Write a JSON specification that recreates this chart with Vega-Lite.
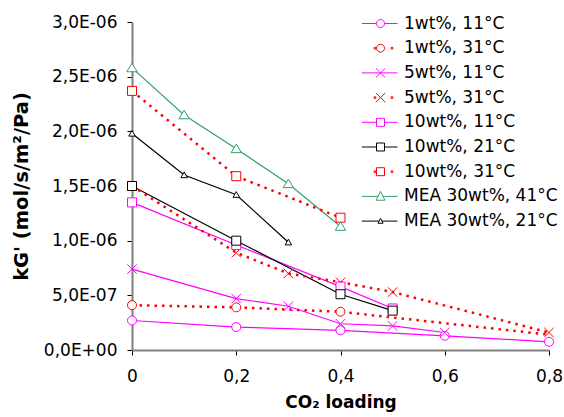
{
  "$schema": "https://vega.github.io/schema/vega-lite/v6.json",
  "width": 417,
  "height": 328,
  "autosize": {"type": "none"},
  "padding": {"left": 132, "top": 22, "right": 15, "bottom": 67},
  "background": "white",
  "config": {"view": {"stroke": null}, "font": "DejaVu Sans"},
  "data": {
    "values": [
      {"series": "1wt%, 11°C", "x": 0, "y": 2.7e-7},
      {"series": "1wt%, 11°C", "x": 0.2, "y": 2.1e-7},
      {"series": "1wt%, 11°C", "x": 0.4, "y": 1.8e-7},
      {"series": "1wt%, 11°C", "x": 0.6, "y": 1.3e-7},
      {"series": "1wt%, 11°C", "x": 0.8, "y": 7.5e-8},
      {"series": "1wt%, 31°C", "x": 0, "y": 4.1e-7},
      {"series": "1wt%, 31°C", "x": 0.2, "y": 3.9e-7},
      {"series": "1wt%, 31°C", "x": 0.4, "y": 3.5e-7},
      {"series": "1wt%, 31°C", "x": 0.8, "y": 1.4e-7},
      {"series": "5wt%, 11°C", "x": 0, "y": 7.4e-7},
      {"series": "5wt%, 11°C", "x": 0.2, "y": 4.7e-7},
      {"series": "5wt%, 11°C", "x": 0.3, "y": 4.0e-7},
      {"series": "5wt%, 11°C", "x": 0.4, "y": 2.4e-7},
      {"series": "5wt%, 11°C", "x": 0.5, "y": 2.2e-7},
      {"series": "5wt%, 11°C", "x": 0.6, "y": 1.6e-7},
      {"series": "5wt%, 31°C", "x": 0, "y": 1.5e-6},
      {"series": "5wt%, 31°C", "x": 0.2, "y": 8.9e-7},
      {"series": "5wt%, 31°C", "x": 0.3, "y": 7.0e-7},
      {"series": "5wt%, 31°C", "x": 0.4, "y": 6.2e-7},
      {"series": "5wt%, 31°C", "x": 0.5, "y": 5.3e-7},
      {"series": "5wt%, 31°C", "x": 0.8, "y": 1.6e-7},
      {"series": "10wt%, 11°C", "x": 0, "y": 1.35e-6},
      {"series": "10wt%, 11°C", "x": 0.2, "y": 9.6e-7},
      {"series": "10wt%, 11°C", "x": 0.4, "y": 5.8e-7},
      {"series": "10wt%, 11°C", "x": 0.5, "y": 3.8e-7},
      {"series": "10wt%, 21°C", "x": 0, "y": 1.5e-6},
      {"series": "10wt%, 21°C", "x": 0.2, "y": 1.0e-6},
      {"series": "10wt%, 21°C", "x": 0.4, "y": 5.1e-7},
      {"series": "10wt%, 21°C", "x": 0.5, "y": 3.6e-7},
      {"series": "10wt%, 31°C", "x": 0, "y": 2.37e-6},
      {"series": "10wt%, 31°C", "x": 0.2, "y": 1.59e-6},
      {"series": "10wt%, 31°C", "x": 0.4, "y": 1.21e-6},
      {"series": "MEA 30wt%, 41°C", "x": 0, "y": 2.58e-6},
      {"series": "MEA 30wt%, 41°C", "x": 0.1, "y": 2.15e-6},
      {"series": "MEA 30wt%, 41°C", "x": 0.2, "y": 1.84e-6},
      {"series": "MEA 30wt%, 41°C", "x": 0.3, "y": 1.52e-6},
      {"series": "MEA 30wt%, 41°C", "x": 0.4, "y": 1.13e-6},
      {"series": "MEA 30wt%, 21°C", "x": 0, "y": 1.98e-6},
      {"series": "MEA 30wt%, 21°C", "x": 0.1, "y": 1.6e-6},
      {"series": "MEA 30wt%, 21°C", "x": 0.2, "y": 1.42e-6},
      {"series": "MEA 30wt%, 21°C", "x": 0.3, "y": 9.85e-7}
    ]
  },
  "encoding": {
    "x": {
      "field": "x", "type": "quantitative",
      "scale": {"domain": [0, 0.8], "nice": false, "zero": false},
      "axis": {
        "values": [0, 0.2, 0.4, 0.6, 0.8],
        "labelExpr": "replace(format(datum.value, '~g'), '.', ',')",
        "title": "CO₂ loading",
        "titleFont": "DejaVu Sans", "titleFontSize": 17, "titleFontWeight": "bold", "titleColor": "black",
        "titlePadding": 10,
        "labelFont": "DejaVu Sans", "labelFontSize": 17, "labelColor": "black", "labelPadding": 13,
        "labelFlush": false, "labelOverlap": false,
        "grid": false,
        "domainColor": "#808080", "domainWidth": 2,
        "tickColor": "black", "tickSize": 5, "tickWidth": 1
      }
    },
    "y": {
      "field": "y", "type": "quantitative",
      "scale": {"domain": [0, 3e-6], "nice": false},
      "axis": {
        "values": [0, 5e-7, 1e-6, 1.5e-6, 2e-6, 2.5e-6, 3e-6],
        "labelExpr": "replace(replace(replace(upper(format(datum.value, '.1e')), '.', ','), 'E-', 'E-0'), 'E+', 'E+0')",
        "title": "kG' (mol/s/m²/Pa)",
        "titleFont": "DejaVu Sans", "titleFontSize": 19.5, "titleFontWeight": "bold", "titleColor": "black",
        "titlePadding": 12,
        "labelFont": "DejaVu Sans", "labelFontSize": 17, "labelColor": "black", "labelPadding": 10,
        "labelFlush": false, "labelOverlap": false,
        "grid": false,
        "domainColor": "#808080", "domainWidth": 2,
        "tickColor": "black", "tickSize": 5, "tickWidth": 1
      }
    }
  },
  "resolve": {"scale": {"color": "independent", "shape": "independent"}},
  "layer": [
    {
      "transform": [{"filter": "indexof(['1wt%, 11°C', '5wt%, 11°C', '10wt%, 11°C', '10wt%, 21°C', 'MEA 30wt%, 41°C', 'MEA 30wt%, 21°C'], datum.series) >= 0"}],
      "mark": {"type": "line", "strokeWidth": 1.2},
      "encoding": {
        "color": {
          "field": "series", "type": "nominal", "legend": null,
          "scale": {
            "domain": ["1wt%, 11°C", "1wt%, 31°C", "5wt%, 11°C", "5wt%, 31°C", "10wt%, 11°C", "10wt%, 21°C", "10wt%, 31°C", "MEA 30wt%, 41°C", "MEA 30wt%, 21°C"],
            "range": ["#FF00FF", "#FF0000", "#FF00FF", "#FF0000", "#FF00FF", "#000000", "#FF0000", "#33A06A", "#000000"]
          }
        }
      }
    },
    {
      "transform": [{"filter": "indexof(['1wt%, 31°C', '5wt%, 31°C', '10wt%, 31°C'], datum.series) >= 0"}],
      "mark": {"type": "line", "strokeWidth": 2.5, "strokeDash": [2.5, 5]},
      "encoding": {
        "color": {
          "field": "series", "type": "nominal", "legend": null,
          "scale": {
            "domain": ["1wt%, 11°C", "1wt%, 31°C", "5wt%, 11°C", "5wt%, 31°C", "10wt%, 11°C", "10wt%, 21°C", "10wt%, 31°C", "MEA 30wt%, 41°C", "MEA 30wt%, 21°C"],
            "range": ["#FF00FF", "#FF0000", "#FF00FF", "#FF0000", "#FF00FF", "#000000", "#FF0000", "#33A06A", "#000000"]
          }
        }
      }
    },
    {
      "transform": [{"filter": "!(datum.series === '1wt%, 31°C' && datum.x === 0.8)"}],
      "mark": {"type": "point", "filled": false, "fill": "white", "opacity": 1, "strokeWidth": 1, "size": 81},
      "encoding": {
        "color": {
          "field": "series", "type": "nominal", "legend": null,
          "scale": {
            "domain": ["1wt%, 11°C", "1wt%, 31°C", "5wt%, 11°C", "5wt%, 31°C", "10wt%, 11°C", "10wt%, 21°C", "10wt%, 31°C", "MEA 30wt%, 41°C", "MEA 30wt%, 21°C"],
            "range": ["#FF00FF", "#FF0000", "#FF00FF", "#FF0000", "#FF00FF", "#000000", "#FF0000", "#33A06A", "#000000"]
          }
        },
        "shape": {
          "field": "series", "type": "nominal", "legend": null,
          "scale": {
            "domain": ["1wt%, 11°C", "1wt%, 31°C", "5wt%, 11°C", "5wt%, 31°C", "10wt%, 11°C", "10wt%, 21°C", "10wt%, 31°C", "MEA 30wt%, 41°C", "MEA 30wt%, 21°C"],
            "range": ["M-1,0A1,1 0 1,0 1,0A1,1 0 1,0 -1,0Z", "M-1,0A1,1 0 1,0 1,0A1,1 0 1,0 -1,0Z", "M-1.05,-1.05L1.05,1.05M-1.05,1.05L1.05,-1.05", "M-1.05,-1.05L1.05,1.05M-1.05,1.05L1.05,-1.05", "M-1,-1H1V1H-1Z", "M-1,-1H1V1H-1Z", "M-1,-1H1V1H-1Z", "M0,-1.05L1.15,0.85L-1.15,0.85Z", "M0,-0.7L0.72,0.58L-0.72,0.58Z"]
          }
        }
      }
    },
    {
      "transform": [{"filter": "datum.x === 0"}],
      "mark": {"type": "point", "filled": false, "fill": "white", "opacity": 0, "strokeWidth": 1, "size": 289},
      "encoding": {
        "color": {
          "field": "series", "type": "nominal",
          "scale": {
            "domain": ["1wt%, 11°C", "1wt%, 31°C", "5wt%, 11°C", "5wt%, 31°C", "10wt%, 11°C", "10wt%, 21°C", "10wt%, 31°C", "MEA 30wt%, 41°C", "MEA 30wt%, 21°C"],
            "range": ["#FF00FF", "#FF0000", "#FF00FF", "#FF0000", "#FF00FF", "#000000", "#FF0000", "#33A06A", "#000000"]
          },
          "legend": {
            "orient": "none", "legendX": 239.5, "legendY": -7.5,
            "title": null,
            "symbolSize": 289, "symbolOpacity": 1, "symbolFillColor": "white",
            "symbolStrokeWidth": 1,
            "labelFont": "DejaVu Sans", "labelFontSize": 17, "labelColor": "black",
            "labelOffset": 14.5, "labelLimit": 300,
            "rowPadding": 7.7
          }
        },
        "shape": {
          "field": "series", "type": "nominal",
          "scale": {
            "domain": ["1wt%, 11°C", "1wt%, 31°C", "5wt%, 11°C", "5wt%, 31°C", "10wt%, 11°C", "10wt%, 21°C", "10wt%, 31°C", "MEA 30wt%, 41°C", "MEA 30wt%, 21°C"],
            "range": ["M-2.2,0H-0.47M0.47,0H2M-0.47,0A0.47,0.47 0 1,0 0.47,0A0.47,0.47 0 1,0 -0.47,0Z", "M-0.75,-0.1h0.2v0.2h-0.2ZM1.25,-0.1h0.2v0.2h-0.2ZM-0.47,0A0.47,0.47 0 1,0 0.47,0A0.47,0.47 0 1,0 -0.47,0Z", "M-2.2,0H2M-0.55,-0.55L0.55,0.55M-0.55,0.55L0.55,-0.55", "M-0.75,-0.1h0.2v0.2h-0.2ZM1.25,-0.1h0.2v0.2h-0.2ZM-0.55,-0.55L0.55,0.55M-0.55,0.55L0.55,-0.55", "M-2.2,0H-0.47M0.47,0H2M-0.47,-0.47H0.47V0.47H-0.47Z", "M-2.2,0H-0.47M0.47,0H2M-0.47,-0.47H0.47V0.47H-0.47Z", "M-0.75,-0.1h0.2v0.2h-0.2ZM1.25,-0.1h0.2v0.2h-0.2ZM-0.47,-0.47H0.47V0.47H-0.47Z", "M-2.2,0H-0.3M0.3,0H2M0,-0.6L0.52,0.45H-0.52Z", "M-2.2,0H-0.17M0.17,0H2M0,-0.33L0.3,0.25H-0.3Z"]
          },
          "legend": {
            "orient": "none", "legendX": 239.5, "legendY": -7.5,
            "title": null,
            "symbolSize": 289, "symbolOpacity": 1, "symbolFillColor": "white",
            "symbolStrokeWidth": 1,
            "labelFont": "DejaVu Sans", "labelFontSize": 17, "labelColor": "black",
            "labelOffset": 14.5, "labelLimit": 300,
            "rowPadding": 7.7
          }
        }
      }
    }
  ]
}
